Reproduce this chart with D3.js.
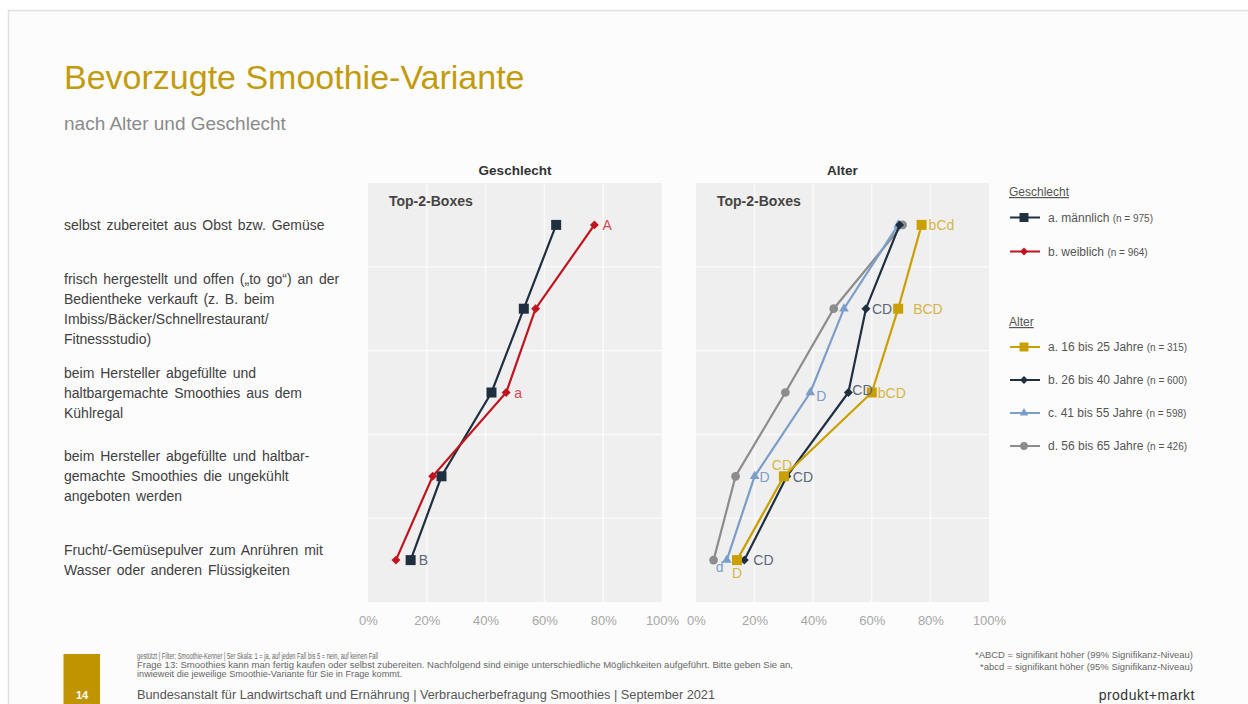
<!DOCTYPE html>
<html>
<head>
<meta charset="utf-8">
<script src="https://cdn.jsdelivr.net/npm/d3@7"></script>
<style>
  body { margin: 0; background: #ffffff; }
  svg { display: block; font-family: "Liberation Sans", Arial, sans-serif; }
</style>
</head>
<body>
<svg id="chart" width="1248" height="704"></svg>
<script>
// ---- Data ---------------------------------------------------------------
const categories = [
  "selbst zubereitet aus Obst bzw. Gemüse",
  "frisch hergestellt und offen („to go“) an der\nBedientheke verkauft (z. B. beim\nImbiss/Bäcker/Schnellrestaurant/\nFitnessstudio)",
  "beim Hersteller abgefüllte und\nhaltbargemachte Smoothies aus dem\nKühlregal",
  "beim Hersteller abgefüllte und haltbar-\ngemachte Smoothies die ungekühlt\nangeboten werden",
  "Frucht/-Gemüsepulver zum Anrühren mit\nWasser oder anderen Flüssigkeiten"
];

const xTicks = [0, 20, 40, 60, 80, 100];

// Geschlecht (Top-2-Boxes, %)
const genderNames = ["a. männlich", "b. weiblich"];
const genderN = [975, 964];
const maleValues   = [64, 53, 42, 25, 14.5];
const femaleValues = [77, 57, 47, 22, 9.5];
const maleSig   = ["", "", "", "", "B"];
const femaleSig = ["A", "", "a", "", ""];

// Alter (Top-2-Boxes, %)
const ageNames = ["a. 16 bis 25 Jahre", "b. 26 bis 40 Jahre", "c. 41 bis 55 Jahre", "d. 56 bis 65 Jahre"];
const ageN = [315, 600, 598, 426];
const age16to25 = [77, 69, 60, 30, 14];
const age26to40 = [69.5, 58, 52, 31, 16.5];
const age41to55 = [69, 50.5, 39, 20, 10.5];
const age56to65 = [70.5, 47, 30.5, 13.5, 6];
const age16to25Sig = ["bCd", "BCD", "bCD", "CD", "D"];
const age26to40Sig = ["", "CD", "CD", "CD", "CD"];
const age41to55Sig = ["", "", "D", "D", "d"];
const age56to65Sig = ["", "", "", "", ""];

// ---- Styling ------------------------------------------------------------
const GOLD = "#c9a000", NAVY = "#1f2f40", RED = "#c0141e", BLUE = "#7b9ec9", GREY = "#8c8c8c";
const TITLE_GOLD = "#c29b0c";

// square diamond marker (equal width and height)
const symbolRhombus = {
  draw(ctx, size) {
    const r = Math.sqrt(size / 2);
    ctx.moveTo(0, -r); ctx.lineTo(r, 0); ctx.lineTo(0, r); ctx.lineTo(-r, 0); ctx.closePath();
  }
};

const genderSeries = [
  { name: genderNames[0], n: genderN[0], values: maleValues,   sig: maleSig,   color: NAVY, labelColor: "#5b6677", symbol: d3.symbolSquare, size: 100 },
  { name: genderNames[1], n: genderN[1], values: femaleValues, sig: femaleSig, color: RED,  labelColor: "#d24a52", symbol: symbolRhombus,  size: 40 }
];
const ageSeries = [
  { name: ageNames[3], n: ageN[3], values: age56to65, sig: age56to65Sig, color: GREY, labelColor: "#8c8c8c", symbol: d3.symbolCircle,   size: 60 },
  { name: ageNames[2], n: ageN[2], values: age41to55, sig: age41to55Sig, color: BLUE, labelColor: "#7b9ec9", symbol: d3.symbolTriangle, size: 40 },
  { name: ageNames[1], n: ageN[1], values: age26to40, sig: age26to40Sig, color: NAVY, labelColor: "#5b6677", symbol: symbolRhombus,    size: 40 },
  { name: ageNames[0], n: ageN[0], values: age16to25, sig: age16to25Sig, color: GOLD, labelColor: "#d6b548", symbol: d3.symbolSquare,   size: 100 }
];

// Placement of significance letters relative to their point: [dx, dy, anchor]
const labelPlacement = {
  "a. 16 bis 25 Jahre": [[7, 0, "start"], [15, 0, "start"], [6, 0, "start"], [-2, -11, "middle"], [0, 13, "middle"]],
  "b. 26 bis 40 Jahre": [null, [6, 0, "start"], [4, -3, "start"], [6, 1, "start"], [9, 0, "start"]],
  "c. 41 bis 55 Jahre": [null, null, [6, 3, "start"], [5, 1, "start"], [-7, 7, "middle"]]
};
function placeFor(s, i) {
  const p = labelPlacement[s.name];
  return (p && p[i]) || [8, 0, "start"];
}

const svg = d3.select("#chart");

// Slide frame
svg.append("rect").attr("x", 8.5).attr("y", 10.5).attr("width", 1260).attr("height", 720)
  .attr("fill", "#fcfcfc").attr("stroke", "#e0e0e0").attr("stroke-width", 1.5);

// Title
svg.append("text").attr("x", 64).attr("y", 89).attr("fill", TITLE_GOLD)
  .attr("font-size", 34).text("Bevorzugte Smoothie-Variante");
svg.append("text").attr("x", 64).attr("y", 130).attr("fill", "#8a8a8a")
  .attr("font-size", 19).text("nach Alter und Geschlecht");

// ---- Scales -------------------------------------------------------------
const y = d3.scaleBand().domain(categories).range([183, 602]).padding(0);
const yc = c => y(c) + y.bandwidth() / 2;

// Category labels
categories.forEach(c => {
  const lines = c.split("\n");
  const lh = 20;
  const t = svg.append("text").attr("fill", "#404040").attr("font-size", 14).attr("word-spacing", 2);
  lines.forEach((ln, k) => {
    t.append("tspan").attr("x", 64)
      .attr("y", yc(c) - (lines.length - 1) * lh / 2 + k * lh + 5)
      .text(ln);
  });
});

function drawPanel(x0, x1, header, series) {
  const x = d3.scaleLinear().domain([0, 100]).range([x0, x1]);
  const g = svg.append("g");

  g.append("rect").attr("x", x0).attr("y", y.range()[0])
    .attr("width", x1 - x0).attr("height", y.range()[1] - y.range()[0]).attr("fill", "#efefef");

  // vertical grid
  g.selectAll(".vg").data(xTicks.slice(1, -1)).join("line")
    .attr("x1", d => x(d)).attr("x2", d => x(d))
    .attr("y1", y.range()[0]).attr("y2", y.range()[1])
    .attr("stroke", "#fafafa").attr("stroke-width", 1.5);
  // horizontal grid between categories
  g.selectAll(".hg").data(categories.slice(1)).join("line")
    .attr("x1", x0).attr("x2", x1)
    .attr("y1", d => y(d)).attr("y2", d => y(d))
    .attr("stroke", "#fafafa").attr("stroke-width", 1.5);

  // x axis (labels only)
  const axis = d3.axisBottom(x).tickValues(xTicks).tickFormat(d => d + "%").tickSize(0).tickPadding(0);
  const ax = g.append("g").attr("transform", `translate(0,${y.range()[1] + 14})`).call(axis);
  ax.select(".domain").remove();
  ax.selectAll("text").attr("fill", "#a6a6a6").attr("font-size", 13)
    .attr("font-family", '"Liberation Sans", Arial, sans-serif');

  // headers
  g.append("text").attr("x", (x0 + x1) / 2).attr("y", 175).attr("text-anchor", "middle")
    .attr("font-size", 13.5).attr("font-weight", "bold").attr("fill", "#333").text(header);
  g.append("text").attr("x", x0 + 21).attr("y", 206)
    .attr("font-size", 14).attr("font-weight", "bold").attr("fill", "#444").text("Top-2-Boxes");

  const line = d3.line().x(d => x(d.v)).y(d => yc(d.c));

  series.forEach(s => {
    const pts = s.values.map((v, i) => ({ v, c: categories[i], i }));
    g.append("path").datum(pts).attr("d", line)
      .attr("fill", "none").attr("stroke", s.color).attr("stroke-width", 2.2);
    g.selectAll(null).data(pts).join("path")
      .attr("transform", d => `translate(${x(d.v)},${yc(d.c)})`)
      .attr("d", d3.symbol().type(s.symbol).size(s.size))
      .attr("fill", s.color);
  });

  // significance letters on top
  series.forEach(s => {
    s.values.forEach((v, i) => {
      if (!s.sig[i]) return;
      const [dx, dy, anchor] = placeFor(s, i);
      g.append("text").attr("x", x(v) + dx).attr("y", yc(categories[i]) + dy + 5)
        .attr("text-anchor", anchor).attr("font-size", 14).attr("fill", s.labelColor)
        .text(s.sig[i]);
    });
  });
}

drawPanel(368, 662, "Geschlecht", genderSeries);
drawPanel(696, 989, "Alter", ageSeries);

// ---- Legend -------------------------------------------------------------
function legendBlock(title, yTitle, items, yStart, step) {
  svg.append("text").attr("x", 1009).attr("y", yTitle + 4).attr("font-size", 12)
    .attr("fill", "#555").attr("text-decoration", "underline").text(title);
  items.forEach((s, k) => {
    const yy = yStart + k * step;
    svg.append("line").attr("x1", 1010).attr("x2", 1040).attr("y1", yy).attr("y2", yy)
      .attr("stroke", s.color).attr("stroke-width", 2);
    svg.append("path").attr("transform", `translate(1024,${yy})`)
      .attr("d", d3.symbol().type(s.symbol).size(s.size * 0.8)).attr("fill", s.color);
    const t = svg.append("text").attr("x", 1048).attr("y", yy + 4).attr("fill", "#555");
    t.append("tspan").attr("font-size", 12).text(s.name + " ");
    t.append("tspan").attr("font-size", 10).text(`(n = ${s.n})`);
  });
}
legendBlock("Geschlecht", 192, genderSeries, 217.5, 34);
legendBlock("Alter", 322, ageSeries.slice().reverse(), 347, 33);

// ---- Footer -------------------------------------------------------------
svg.append("rect").attr("x", 63.5).attr("y", 654).attr("width", 36.5).attr("height", 60).attr("fill", "#c09400");
svg.append("text").attr("x", 82).attr("y", 699).attr("text-anchor", "middle")
  .attr("font-size", 11).attr("font-weight", "bold").attr("fill", "#fff").text("14");

const notes = [
  ["gestützt | Filter: Smoothie-Kenner | 5er Skala: 1 = ja, auf jeden Fall bis 5 = nein, auf keinen Fall", 659, 241],
  ["Frage 13: Smoothies kann man fertig kaufen oder selbst zubereiten. Nachfolgend sind einige unterschiedliche Möglichkeiten aufgeführt. Bitte geben Sie an,", 668, 656],
  ["inwieweit die jeweilige Smoothie-Variante für Sie in Frage kommt.", 677, 265]
];
notes.forEach(([txt, yy, w]) => {
  svg.append("text").attr("x", 137).attr("y", yy).attr("font-size", 8.5).attr("fill", "#666")
    .attr("textLength", w).attr("lengthAdjust", "spacingAndGlyphs").text(txt);
});
svg.append("text").attr("x", 137).attr("y", 699).attr("font-size", 12).attr("fill", "#555")
  .attr("textLength", 578).attr("lengthAdjust", "spacingAndGlyphs")
  .text("Bundesanstalt für Landwirtschaft und Ernährung | Verbraucherbefragung Smoothies | September 2021");

svg.append("text").attr("x", 1193).attr("y", 658).attr("text-anchor", "end").attr("font-size", 8.5).attr("fill", "#666")
  .attr("textLength", 218).attr("lengthAdjust", "spacingAndGlyphs")
  .text("*ABCD = signifikant höher (99% Signifikanz-Niveau)");
svg.append("text").attr("x", 1193).attr("y", 670).attr("text-anchor", "end").attr("font-size", 8.5).attr("fill", "#666")
  .attr("textLength", 213).attr("lengthAdjust", "spacingAndGlyphs")
  .text("*abcd = signifikant höher (95% Signifikanz-Niveau)");
svg.append("text").attr("x", 1195).attr("y", 700).attr("text-anchor", "end").attr("font-size", 14).attr("fill", "#333")
  .attr("letter-spacing", 0.5).text("produkt+markt");
</script>
</body>
</html>
